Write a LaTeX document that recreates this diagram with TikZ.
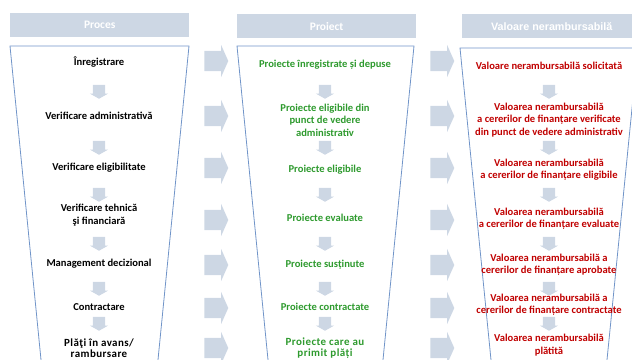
\documentclass[tikz,border=0pt]{standalone}
\usepackage{fontspec}
\setmainfont{Carlito}
\newfontfamily\headsans{Liberation Sans}
\usepackage{xcolor}
\usetikzlibrary{shapes.arrows}
\definecolor{headfill}{HTML}{CDD7E4}
\definecolor{funnelline}{HTML}{7094C8}
\definecolor{projgreen}{HTML}{2E9A2E}
\definecolor{valred}{HTML}{C00000}
\newcommand{\rowfont}{\bfseries\fontsize{10.6}{12.5}\selectfont}
\newcommand{\lastfont}{\addfontfeatures{LetterSpace=4}\bfseries\fontsize{11}{11.5}\selectfont}

\begin{document}
\begin{tikzpicture}[x=1bp, y=-1bp,
  every node/.style={font=\rowfont, align=center, inner sep=0pt},
  headbox/.style={fill=headfill, text=white, font=\bfseries\fontsize{11.5}{12}\selectfont,
    minimum width=179bp, minimum height=24bp, anchor=north west},
  funnel/.style={draw=funnelline, line width=0.8pt},
  bigarrow/.style={shape=single arrow, fill=headfill, inner xsep=0pt, inner ysep=10bp,
    minimum height=24bp, single arrow head extend=6bp, single arrow tip angle=132},
  downarrow/.style={shape=single arrow, fill=headfill, inner xsep=0pt, inner ysep=6bp,
    minimum height=14bp, single arrow head extend=3bp, single arrow tip angle=121, rotate=-90}]
\useasboundingbox (0,0) rectangle (632,359);
\clip (0,0) rectangle (632,359);

% Proces
\node[headbox] (prochead) at (10,13) {Proces};
\draw[funnel] (43,380) -- (10,46) -- (189,46) -- (156,380);
\node (proc1) at (99,62) {Înregistrare};
\node (proc2) at (99,116) {Verificare administrativă};
\node (proc3) at (99,168) {Verificare eligibilitate};
\node (proc4) at (99,215) {Verificare tehnică\\şi financiară};
\node (proc5) at (99,264) {Management decizional};
\node (proc6) at (99,307) {Contractare};
\node[font=\lastfont] (proc7) at (99,348) {Plăţi în avans/\\rambursare};

% Proiect
\node[headbox] (projhead) at (237,14) {Proiect};
\draw[funnel] (270,380) -- (237,46) -- (414,46) -- (381,380);
\node[text=projgreen] (proj1) at (325,65) {Proiecte înregistrate și depuse};
\node[text=projgreen] (proj2) at (325,120) {Proiecte eligibile din\\punct de vedere\\administrativ};
\node[text=projgreen] (proj3) at (325,170) {Proiecte eligibile};
\node[text=projgreen] (proj4) at (325,218) {Proiecte evaluate};
\node[text=projgreen] (proj5) at (325,265) {Proiecte susținute};
\node[text=projgreen] (proj6) at (325,307) {Proiecte contractate};
\node[text=projgreen, font=\lastfont] (proj7) at (325,348) {Proiecte care au\\primit plăți};

% Valoare nerambursabila
\node[headbox, font=\headsans\bfseries\fontsize{10.8}{12}\selectfont] (valhead) at (462,14) {Valoare nerambursabilă};
\draw[funnel] (493,380) -- (460,48) -- (638,48) -- (605,380);
\node[text=valred] (val1) at (549,66) {Valoare nerambursabilă solicitată};
\node[text=valred] (val2) at (549,120) {Valoarea nerambursabilă\\a cererilor de finanțare verificate\\din punct de vedere administrativ};
\node[text=valred] (val3) at (549,170) {Valoarea nerambursabilă\\a cererilor de finanțare eligibile};
\node[text=valred] (val4) at (549,219) {Valoarea nerambursabilă\\a cererilor de finanțare evaluate};
\node[text=valred] (val5) at (549,265) {Valoarea nerambursabilă a\\cererilor de finanțare aprobate};
\node[text=valred] (val6) at (549,305) {Valoarea nerambursabilă a\\cererilor de finanțare contractate};
\node[text=valred] (val7) at (549,345) {Valoarea nerambursabilă\\plătită};

% small arrows down each column
\foreach \y [count=\i] in {90,146,193,242,287,322} {
  \node[downarrow] (dproc\i) at (99,\y) {};
  \node[downarrow] (dproj\i) at (325,\y) {};
  \node[downarrow] (dval\i) at (549,\y) {};
}

% arrows between columns
\foreach \y [count=\i] in {61,116,168,220,265,308,348} {
  \node[bigarrow] (aproj\i) at (214,\y) {};
  \node[bigarrow] (aval\i) at (440,\y) {};
}
\end{tikzpicture}
\end{document}
